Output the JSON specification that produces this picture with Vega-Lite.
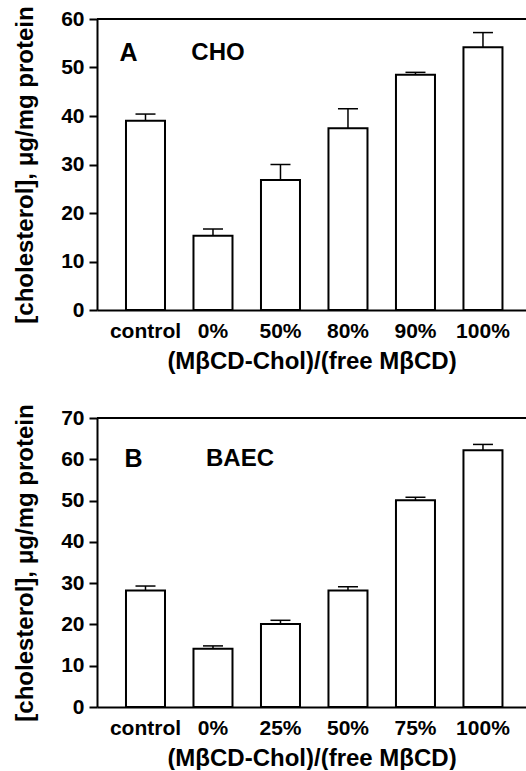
{
  "$schema": "https://vega.github.io/schema/vega-lite/v6.json",
  "padding": {"left": 13, "top": 5, "right": 0, "bottom": 0},
  "spacing": 30,
  "config": {
    "view": {"stroke": null},
    "font": "Liberation Sans",
    "axis": {"domainColor": "black", "domainWidth": 2, "tickColor": "black", "tickWidth": 2, "labelColor": "black", "titleColor": "black", "labelFont": "Liberation Sans", "titleFont": "Liberation Sans", "labelFontWeight": "bold", "titleFontWeight": "bold", "labelFontSize": 21, "titleFontSize": 24, "grid": false},
    "axisX": {"ticks": false, "labelAngle": 0, "labelPadding": 10, "titlePadding": 8},
    "axisY": {"tickSize": 8, "labelPadding": 5, "titlePadding": 23},
    "text": {"font": "Liberation Sans"}
  },
  "datasets": {
    "cho": [
      {"cat": "control", "value": 39.0, "upper": 40.4},
      {"cat": "0%", "value": 15.3, "upper": 16.7},
      {"cat": "50%", "value": 26.8, "upper": 30.0},
      {"cat": "80%", "value": 37.5, "upper": 41.5},
      {"cat": "90%", "value": 48.5, "upper": 49.0},
      {"cat": "100%", "value": 54.2, "upper": 57.2}
    ],
    "baec": [
      {"cat": "control", "value": 28.2, "upper": 29.3},
      {"cat": "0%", "value": 14.1, "upper": 14.8},
      {"cat": "25%", "value": 20.1, "upper": 21.0},
      {"cat": "50%", "value": 28.2, "upper": 29.1},
      {"cat": "75%", "value": 50.1, "upper": 50.8},
      {"cat": "100%", "value": 62.2, "upper": 63.6}
    ]
  },
  "vconcat": [
    {
      "width": 429,
      "height": 291,
      "data": {"name": "cho"},
      "layer": [
        {
          "mark": {"type": "rule", "color": "black", "strokeWidth": 1.5},
          "encoding": {
            "x": {"field": "cat", "type": "nominal", "sort": null, "scale": {"paddingInner": 0.422, "paddingOuter": 0.389, "align": 0.552}, "title": "(MβCD-Chol)/(free MβCD)"},
            "y": {"field": "value", "type": "quantitative", "scale": {"domain": [0, 60]}, "axis": {"values": [0, 10, 20, 30, 40, 50, 60]}, "title": "[cholesterol], μg/mg protein"},
            "y2": {"field": "upper"}
          }
        },
        {
          "mark": {"type": "tick", "color": "black", "size": 20, "thickness": 1.5, "opacity": 1},
          "encoding": {
            "x": {"field": "cat", "type": "nominal", "sort": null, "title": "(MβCD-Chol)/(free MβCD)"},
            "y": {"field": "upper", "type": "quantitative", "title": "[cholesterol], μg/mg protein"}
          }
        },
        {
          "mark": {"type": "bar", "fill": "white", "stroke": "black", "strokeWidth": 2},
          "encoding": {
            "x": {"field": "cat", "type": "nominal", "sort": null, "title": "(MβCD-Chol)/(free MβCD)"},
            "y": {"field": "value", "type": "quantitative", "title": "[cholesterol], μg/mg protein"}
          }
        },
        {
          "data": {"values": [{"top": 60}]},
          "mark": {"type": "rule", "color": "black", "strokeWidth": 2},
          "encoding": {
            "y": {"field": "top", "type": "quantitative", "title": "[cholesterol], μg/mg protein"}
          }
        },
        {
          "data": {"values": [{"label": "A", "cat": "control", "y": 53}]},
          "mark": {"type": "text", "fontSize": 25, "fontWeight": "bold", "color": "black", "dx": -17, "baseline": "middle"},
          "encoding": {
            "x": {"field": "cat", "type": "nominal", "sort": null, "title": "(MβCD-Chol)/(free MβCD)"},
            "y": {"field": "y", "type": "quantitative", "title": "[cholesterol], μg/mg protein"},
            "text": {"field": "label"}
          }
        },
        {
          "data": {"values": [{"label": "CHO", "cat": "0%", "y": 53}]},
          "mark": {"type": "text", "fontSize": 24, "fontWeight": "bold", "color": "black", "dx": 5, "baseline": "middle"},
          "encoding": {
            "x": {"field": "cat", "type": "nominal", "sort": null, "title": "(MβCD-Chol)/(free MβCD)"},
            "y": {"field": "y", "type": "quantitative", "title": "[cholesterol], μg/mg protein"},
            "text": {"field": "label"}
          }
        }
      ]
    },
    {
      "width": 429,
      "height": 289,
      "data": {"name": "baec"},
      "layer": [
        {
          "mark": {"type": "rule", "color": "black", "strokeWidth": 1.5},
          "encoding": {
            "x": {"field": "cat", "type": "nominal", "sort": null, "scale": {"paddingInner": 0.422, "paddingOuter": 0.389, "align": 0.552}, "title": "(MβCD-Chol)/(free MβCD)"},
            "y": {"field": "value", "type": "quantitative", "scale": {"domain": [0, 70]}, "axis": {"values": [0, 10, 20, 30, 40, 50, 60, 70]}, "title": "[cholesterol], μg/mg protein"},
            "y2": {"field": "upper"}
          }
        },
        {
          "mark": {"type": "tick", "color": "black", "size": 20, "thickness": 1.5, "opacity": 1},
          "encoding": {
            "x": {"field": "cat", "type": "nominal", "sort": null, "title": "(MβCD-Chol)/(free MβCD)"},
            "y": {"field": "upper", "type": "quantitative", "title": "[cholesterol], μg/mg protein"}
          }
        },
        {
          "mark": {"type": "bar", "fill": "white", "stroke": "black", "strokeWidth": 2},
          "encoding": {
            "x": {"field": "cat", "type": "nominal", "sort": null, "title": "(MβCD-Chol)/(free MβCD)"},
            "y": {"field": "value", "type": "quantitative", "title": "[cholesterol], μg/mg protein"}
          }
        },
        {
          "data": {"values": [{"top": 70}]},
          "mark": {"type": "rule", "color": "black", "strokeWidth": 2},
          "encoding": {
            "y": {"field": "top", "type": "quantitative", "title": "[cholesterol], μg/mg protein"}
          }
        },
        {
          "data": {"values": [{"label": "B", "cat": "control", "y": 60}]},
          "mark": {"type": "text", "fontSize": 25, "fontWeight": "bold", "color": "black", "dx": -12, "baseline": "middle"},
          "encoding": {
            "x": {"field": "cat", "type": "nominal", "sort": null, "title": "(MβCD-Chol)/(free MβCD)"},
            "y": {"field": "y", "type": "quantitative", "title": "[cholesterol], μg/mg protein"},
            "text": {"field": "label"}
          }
        },
        {
          "data": {"values": [{"label": "BAEC", "cat": "0%", "y": 60}]},
          "mark": {"type": "text", "fontSize": 24, "fontWeight": "bold", "color": "black", "dx": 27, "baseline": "middle"},
          "encoding": {
            "x": {"field": "cat", "type": "nominal", "sort": null, "title": "(MβCD-Chol)/(free MβCD)"},
            "y": {"field": "y", "type": "quantitative", "title": "[cholesterol], μg/mg protein"},
            "text": {"field": "label"}
          }
        }
      ]
    }
  ]
}
